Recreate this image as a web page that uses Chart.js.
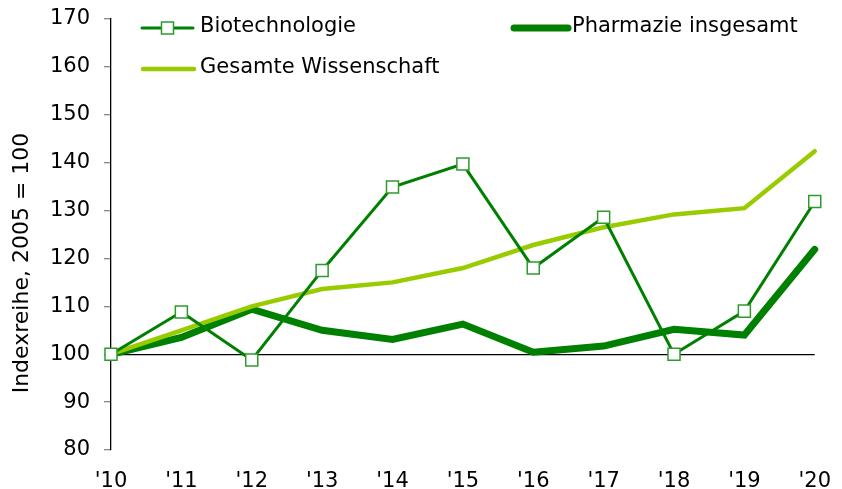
<!DOCTYPE html>
<html>
<head>
<meta charset="utf-8">
<script src="https://cdn.jsdelivr.net/npm/chart.js@4"></script>
<style>
  html, body { margin: 0; padding: 0; background: #fff; }
  #wrap { width: 842px; height: 489px; }
</style>
</head>
<body>
<div id="wrap"><canvas id="linechart"></canvas></div>
<script>
// data
var years = ["'10", "'11", "'12", "'13", "'14", "'15", "'16", "'17", "'18", "'19", "'20"];
var biotech = [100, 108.8, 98.8, 117.5, 134.9, 139.7, 118, 128.6, 100, 109, 131.9];
var pharma = [100, 103.5, 109.4, 105, 103.1, 106.3, 100.4, 101.7, 105.2, 104, 121.9];
var gesamt = [100, 105, 110, 113.6, 115, 118, 122.8, 126.5, 129.2, 130.5, 142.4];
var yTicks = [80, 90, 100, 110, 120, 130, 140, 150, 160, 170];
var yTitle = 'Indexreihe, 2005 = 100';

var dark = '#008000';
var light = '#99cc00';
var font = 'DejaVu Sans, Verdana, sans-serif';

// legend drawn by hand, two columns like the original; y title sits a bit low in the original
var legendPlugin = {
  id: 'handLegend',
  afterDraw: function (chart) {
    var c = chart.ctx;
    var items = [
      { ds: 0, x1: 142, x2: 193, y: 28, tx: 200 },
      { ds: 1, x1: 514, x2: 568, y: 28, tx: 572 },
      { ds: 2, x1: 143, x2: 194, y: 69, tx: 200 }
    ];
    c.save();
    items.forEach(function (it) {
      var ds = chart.data.datasets[it.ds];
      c.strokeStyle = ds.borderColor;
      c.lineWidth = ds.borderWidth;
      c.lineCap = 'round';
      c.beginPath();
      c.moveTo(it.x1, it.y);
      c.lineTo(it.x2, it.y);
      c.stroke();
      if (ds.pointRadius > 0) {
        var h = ds.pointRadius * Math.SQRT1_2, mx = (it.x1 + it.x2) / 2;
        c.fillStyle = '#fff';
        c.lineWidth = ds.pointBorderWidth;
        c.strokeStyle = ds.pointBorderColor;
        c.fillRect(mx - h, it.y - h, 2 * h, 2 * h);
        c.strokeRect(mx - h, it.y - h, 2 * h, 2 * h);
      }
      c.fillStyle = '#000';
      c.font = '21px ' + font;
      c.textBaseline = 'middle';
      c.textAlign = 'left';
      c.fillText(ds.label, it.tx, it.y - 1);
    });

    c.translate(22, 263);
    c.rotate(-Math.PI / 2);
    c.font = '22px ' + font;
    c.textAlign = 'center';
    c.textBaseline = 'middle';
    c.fillStyle = '#000';
    c.fillText(yTitle, 0, 0);
    c.restore();
  }
};

var ctx = document.getElementById('linechart').getContext('2d');
var chart = new Chart(ctx, {
  type: 'line',
  data: {
    labels: years,
    datasets: [{
      label: 'Biotechnologie',
      data: biotech,
      borderColor: dark,
      borderWidth: 3,
      pointStyle: 'rect',
      pointRadius: 8.5,
      pointBackgroundColor: '#fff',
      pointBorderColor: '#2e9a2e',
      pointBorderWidth: 1.5,
      tension: 0,
      borderCapStyle: 'round',
      clip: false,
      order: 0
    }, {
      label: 'Pharmazie insgesamt',
      data: pharma,
      borderColor: dark,
      borderWidth: 7,
      pointRadius: 0,
      tension: 0,
      borderCapStyle: 'round',
      clip: false,
      order: 2
    }, {
      label: 'Gesamte Wissenschaft',
      data: gesamt,
      borderColor: light,
      borderWidth: 4.5,
      pointRadius: 0,
      tension: 0,
      borderCapStyle: 'round',
      clip: false,
      order: 1
    }]
  },
  options: {
    responsive: true,
    maintainAspectRatio: false,
    animation: false,
    layout: { padding: { top: 19, right: 25, left: 0, bottom: 0 } },
    plugins: { legend: { display: false }, tooltip: { enabled: false } },
    scales: {
      x: {
        grid: { display: false },
        border: { display: false },
        ticks: { color: '#000', font: { family: font, size: 21 }, padding: 11, maxRotation: 0 },
        afterFit: function (s) { s.height = 39; }
      },
      y: {
        min: 80,
        max: 170,
        afterBuildTicks: function (s) { s.ticks = yTicks.map(function (v) { return { value: v }; }); },
        grid: {
          color: function (c) { return c.tick && c.tick.value === 100 ? '#000' : 'rgba(0,0,0,0)'; },
          tickColor: '#888',
          tickLength: 7,
          lineWidth: 1.3
        },
        border: { display: true, color: '#000', width: 1.3 },
        ticks: { color: '#000', font: { family: font, size: 21 }, padding: 14 },
        afterFit: function (s) { s.width = 111; s.paddingTop = 0; s.paddingBottom = 0; }
      }
    }
  },
  plugins: [legendPlugin]
});
</script>
</body>
</html>
